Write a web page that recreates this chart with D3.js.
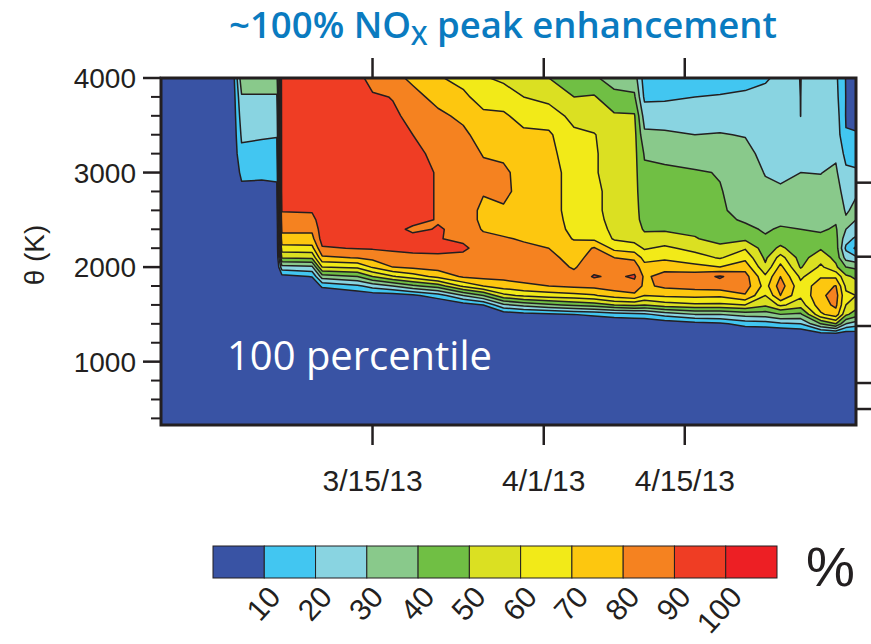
<!DOCTYPE html>
<html><head><meta charset="utf-8">
<script src="https://cdn.jsdelivr.net/npm/d3@7"></script>
<style>body{margin:0;background:#fff;} svg{display:block;}</style>
</head><body>
<svg id="chart" width="871" height="644"></svg>
<script>
// ---------------- DATA ----------------
const dates = [
  "2013-02-22 00","2013-03-01 00","2013-03-02 00","2013-03-04 00","2013-03-05 12",
  "2013-03-06 00","2013-03-09 00","2013-03-10 00","2013-03-13 12","2013-03-15 00",
  "2013-03-17 00","2013-03-19 00","2013-03-21 12","2013-03-24 00","2013-03-26 00",
  "2013-03-28 00","2013-03-30 00","2013-04-01 12","2013-04-04 00","2013-04-06 00",
  "2013-04-08 00","2013-04-10 00","2013-04-11 00","2013-04-13 00","2013-04-16 00",
  "2013-04-18 12","2013-04-21 00","2013-04-23 00","2013-04-24 12","2013-04-26 12",
  "2013-04-28 12","2013-04-30 00","2013-05-01 00","2013-05-02 00"
];
// potential temperature levels (K), top to bottom
const thetaLevels = [4000,3800,3600,3400,3200,3000,2800,2600,2500,2400,2300,2200,2100,2000,1900,1800,1700,1600,1500,1400,1300,1200,330];
// NOx enhancement (%) profile for each date, ordered as thetaLevels
const profiles = [
  [0,0,0,0,0,0,0,0,0,0,0,0,0,0,0,0,0,0,0,0,0,0,0],
  [0,0,0,0,0,0,0,0,0,0,0,0,0,0,0,0,0,0,0,0,0,0,0],
  [36,29,25,21.5,18,12.5,7,3,1,0,0,0,0,0,0,0,0,0,0,0,0,0,0],
  [36,29,24.5,21,17,12,7,3,1,0,0,0,0,0,0,0,0,0,0,0,0,0,0],
  [36,29,24,20.5,17,12,8,4,2,0,0,0,0,0,0,0,0,0,0,0,0,0,0],
  [95,95,95,95,95,95,95,90.5,87,82,77,66,51,26,6,0,0,0,0,0,0,0,0],
  [95,95,95,95,95,95,95,91,87,82,77,67,52,28,10.5,0,0,0,0,0,0,0,0],
  [95,95,95,95,95,95,95,95,95,95,94,89,78,60,35,12,0,0,0,0,0,0,0],
  [95,95,95,95,95,95,95,95,95,95,95,90.5,80.5,62,40,18,3,0,0,0,0,0,0],
  [84,92,95,95,95,95,95,95,95,95,95,91,83,71,50,24,4,0,0,0,0,0,0],
  [83,89.5,92,95,95,95,95,95,95,95,95,92,86,80,59,30,5,0,0,0,0,0,0],
  [78,83,87,90,93,95,95,95,95,87,95,93,87,82,65,38,8,0,0,0,0,0,0],
  [71,77,82,85,87,89,89,89,89,91,90.5,93,88,84,73,45,15,0,0,0,0,0,0],
  [67,72,78,82,84,86,87,87,87,87,88,92,87,85,81.5,62,30,5,0,0,0,0,0],
  [61,66,72,76,79.5,82,81,77,77,79,83,85,86,86,83,70,40,10,0,0,0,0,0],
  [58,65,71.5,74,78,82,82,79,76,77,81,84,86,85,83,75,57,28,3,0,0,0,0],
  [56,60,66.5,72,74,76,77,76,75,76,79,82,84,85,84,78,62,33,6,0,0,0,0],
  [50,57,65,71.5,73,74,74,74,74,74,75,80,83,84.5,84,80,65,38,8,0,0,0,0],
  [45,50,57,62,64,66,66,66,67,68,69.5,73,76,79,83,82,67,42,10,0,0,0,0],
  [41,51,55,60.5,61,61,62,62,63,64,68,81,84,86,91,83,69,45,12,0,0,0,0],
  [37,42,51.5,55,56,56,57,57,57,58,59,67,80,85,88,85,75,50,15,0,0,0,0],
  [35,41.5,51,53,53,53,53,53,53,54,57,64,78,85,91.5,86,78,52,17,0,0,0,0],
  [15,18,25.5,32,39,42,44,46,47,49,53,59,66,74,78,78,70,50,18,0,0,0,0],
  [14,18.5,25,31.5,38,41.5,43.5,46,47,49,54,62,68,76,84,82,72,55,24,2,0,0,0],
  [16,20,25,30,35,41,43.5,45.5,47,48.5,50.5,57,64,73,86,84,73,58,30,6,0,0,0],
  [16.5,20.5,25.5,30.5,35.5,39.5,40.5,41,42,44,47.5,52,59,70,91,86,72,58,30,8,0,0,0],
  [18,21,25,29.5,33,35,36,37.5,39,42,48,59,67,76,84,85,79,60,34,14,0,0,0],
  [19,22.5,24,25.5,27,29.5,32,35,36.5,39,41,45,48,52,62,66,60,52,35,15,0,0,0],
  [22,23.5,25,26,27,28.5,31,35,38,41,45,52,64,73,80,85,80,62,40,18,0,0,0],
  [19.9,19.95,19.97,21,26,30,33,36,38,40,42,44,46,49,58,63,62,55,38,20,2,0,0],
  [24,25,26,27,28.5,29.8,32,35,37,39,42,49,56,62,69,76,78,76,68,40,8,0,0],
  [22,23,25,26.5,28.5,31.5,34,37,39,41,43,45,47,52,68,80.5,84,82,76,50,10,0,0],
  [9.5,9.7,9.5,10.3,17,22,26,29,31,30,24,18,26,40,52,58,62,60,52,30,5,0,0],
  [5,5,6,11,14,22,29,32,30,26,18,8,22,38,48,54,60,55,45,25,6,0,0]
];
const contourLevels = [10,20,30,40,50,60,70,80,90,100];
const levelColors = ["#3953a4","#42c6f1","#89d4e1","#89c98b","#70bf44","#dbe022","#f2ea18","#fdc70f","#f58220","#ef3d24","#ed1f24"];
const dateTicks = ["2013-03-15 00","2013-04-01 00","2013-04-15 00"];
const dateTickLabels = ["3/15/13","4/1/13","4/15/13"];
const thetaMajorTicks = [1000,2000,3000,4000];
const thetaMinorTicks = [400,600,800,1200,1400,1600,1800,2200,2400,2600,2800,3200,3400,3600,3800];
const rightAxisTicks = [2893,2110,1377,774,499];
const dateDomain = ["2013-02-22 00","2013-05-02 00"];
const thetaDomain = [330,4000];

// ---------------- DRAW ----------------
const parse = d3.utcParse("%Y-%m-%d %H");
const svg = d3.select("#chart");
const L = 161, R = 856, T = 78, B = 425;
const x = d3.scaleUtc().domain(dateDomain.map(parse)).range([L, R]);
const y = d3.scaleLinear().domain(thetaDomain).range([B, T]);

const n = dates.length, m = thetaLevels.length;
const grid = new Array(n * m);
for (let j = 0; j < m; j++) for (let i = 0; i < n; i++) grid[j * n + i] = profiles[i][j];

const colX = d3.scaleLinear().domain(dates.map((d, i) => i + 0.5)).range(dates.map(d => x(parse(d)))).clamp(true);
const rowY = d3.scaleLinear().domain(thetaLevels.map((d, i) => i + 0.5)).range(thetaLevels.map(t => y(t))).clamp(true);
const proj = d3.geoTransform({ point(px, py) { this.stream.point(colX(px), rowY(py)); } });
const path = d3.geoPath(proj);

svg.append("defs").append("clipPath").attr("id", "plotclip")
  .append("rect").attr("x", L).attr("y", T).attr("width", R - L).attr("height", B - T);

const plot = svg.append("g").attr("clip-path", "url(#plotclip)");
plot.append("rect").attr("x", L).attr("y", T).attr("width", R - L).attr("height", B - T).attr("fill", levelColors[0]);

const contours = d3.contours().size([n, m]).thresholds(contourLevels)(grid);
plot.selectAll("path.band").data(contours).join("path")
  .attr("class", "band")
  .attr("d", path)
  .attr("fill", (d, k) => levelColors[k + 1])
  .attr("stroke", "#231f20")
  .attr("stroke-width", 1.5)
  .attr("stroke-linejoin", "round");

// in-plot label
const pct = svg.append("text").attr("x", 227).attr("y", 370)
  .attr("fill", "#fff").attr("font-family", "'Open Sans', sans-serif").attr("font-weight", 400)
  .attr("font-size", 40).text("100 percentile");
{ const w = pct.node().getComputedTextLength(); pct.attr("font-size", 40 * 265 / w); }

// frame
svg.append("rect").attr("x", L).attr("y", T).attr("width", R - L).attr("height", B - T)
  .attr("fill", "none").attr("stroke", "#231f20").attr("stroke-width", 3);

const tickG = svg.append("g").attr("stroke", "#231f20").attr("stroke-width", 2.5);
thetaMajorTicks.forEach(t => tickG.append("line").attr("x1", L - 18).attr("x2", L).attr("y1", y(t)).attr("y2", y(t)));
thetaMinorTicks.forEach(t => tickG.append("line").attr("x1", L - 10).attr("x2", L).attr("y1", y(t)).attr("y2", y(t)).attr("stroke-width", 2));
rightAxisTicks.forEach(t => tickG.append("line").attr("x1", R).attr("x2", R + 15).attr("y1", y(t)).attr("y2", y(t)));
dateTicks.forEach(d => {
  const xx = x(parse(d));
  tickG.append("line").attr("x1", xx).attr("x2", xx).attr("y1", T - 20).attr("y2", T);
  tickG.append("line").attr("x1", xx).attr("x2", xx).attr("y1", B).attr("y2", B + 20);
});

const axisFont = "'Liberation Sans', Arial, sans-serif";
svg.append("g").selectAll("text").data(thetaMajorTicks).join("text")
  .attr("x", 136).attr("y", t => y(t)).attr("dy", "0.36em")
  .attr("text-anchor", "end").attr("font-family", axisFont).attr("font-size", 28)
  .attr("fill", "#231f20").text(t => t);
svg.append("g").selectAll("text").data(dateTicks).join("text")
  .attr("x", d => x(parse(d))).attr("y", 491)
  .attr("text-anchor", "middle").attr("font-family", axisFont).attr("font-size", 30)
  .attr("fill", "#231f20").text((d, i) => dateTickLabels[i]);
svg.append("text").attr("transform", "translate(44,255) rotate(-90)")
  .attr("text-anchor", "middle").attr("font-family", axisFont).attr("font-size", 28)
  .attr("fill", "#231f20").text("θ (K)");

// title
const title = svg.append("text").attr("x", 503).attr("y", 38).attr("text-anchor", "middle")
  .attr("font-family", "'Open Sans', sans-serif").attr("font-weight", 600)
  .attr("font-size", 32).attr("fill", "#0a7bc0");
title.append("tspan").text("~100% NO");
title.append("tspan").attr("font-size", "0.72em").attr("dy", 7).text("X");
title.append("tspan").attr("dy", -7).text(" peak enhancement");
{ const bb = title.node().getBBox(); title.attr("font-size", 32 * 548 / bb.width); }

// colorbar
const cbX = d3.scaleLinear().domain([0, levelColors.length]).range([213, 777]);
const cb = svg.append("g");
cb.selectAll("rect").data(levelColors).join("rect")
  .attr("x", (d, i) => cbX(i)).attr("y", 546).attr("width", cbX(1) - cbX(0)).attr("height", 32)
  .attr("fill", d => d).attr("stroke", "#231f20").attr("stroke-width", 1);
cb.selectAll("text").data(contourLevels).join("text")
  .attr("transform", (d, i) => `translate(${cbX(i + 1) + 18},${598}) rotate(-48)`)
  .attr("text-anchor", "end").attr("font-family", axisFont).attr("font-size", 30)
  .attr("fill", "#231f20").text(d => d);
svg.append("text").attr("x", 806).attr("y", 586).attr("font-family", axisFont)
  .attr("font-size", 55).attr("fill", "#231f20").text("%");
</script>
</body></html>
